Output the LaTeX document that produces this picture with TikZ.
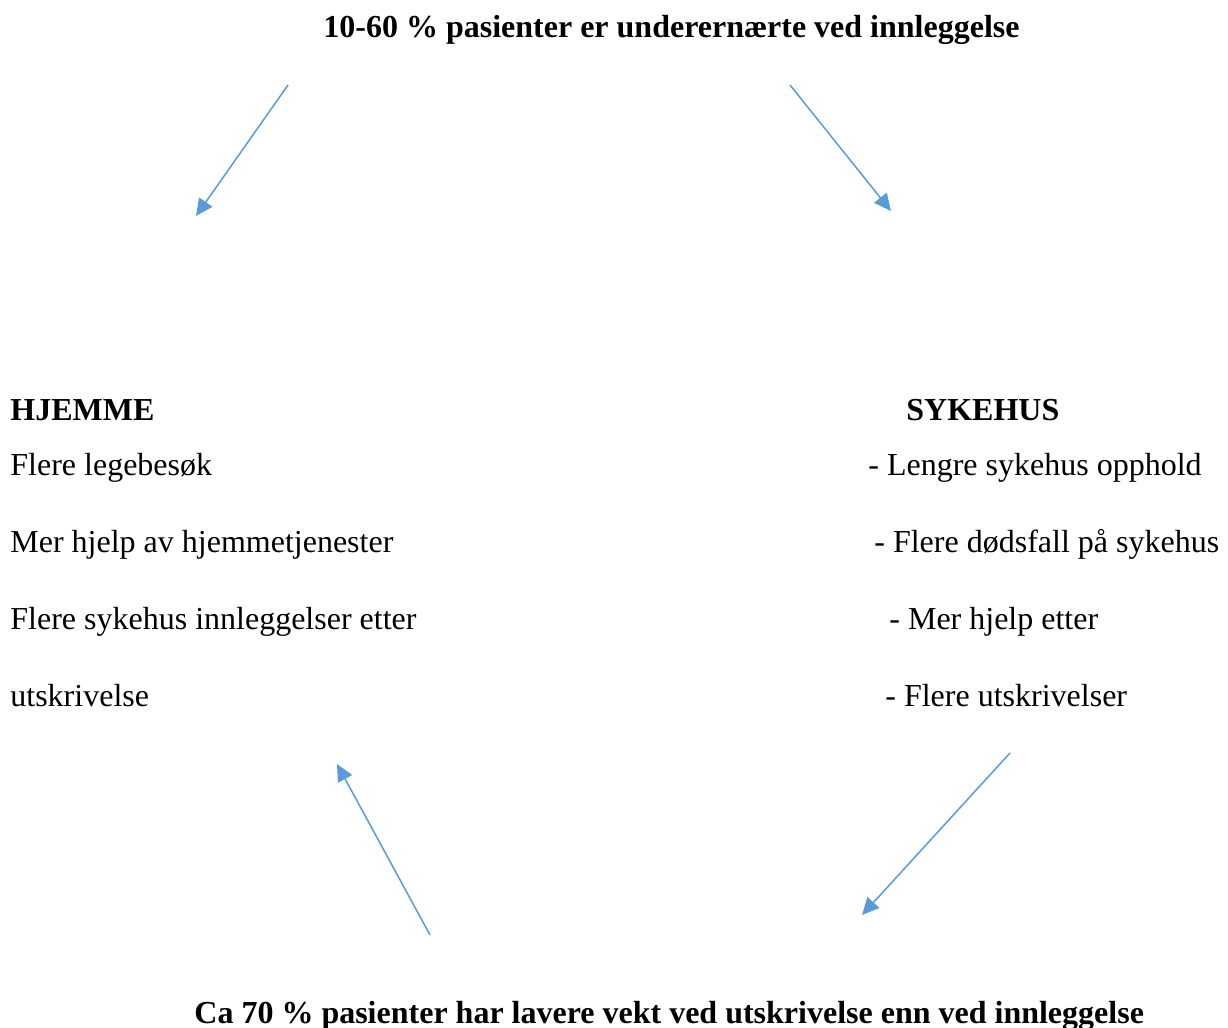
\documentclass[tikz,border=0pt]{standalone}
\usepackage{fontspec}
\setmainfont{Liberation Serif}
\usetikzlibrary{arrows.meta}
\definecolor{linjeblaa}{HTML}{5B9BD5}

\begin{document}
\begin{tikzpicture}[x=0.5pt,y=-0.5pt,
    tekst/.style={anchor=base west,inner sep=0pt,font=\fontsize{16}{19}\selectfont},
    uthevet/.style={tekst,font=\fontsize{16}{19}\selectfont\bfseries},
    pil/.style={-{Triangle[length=8.5pt,width=8pt]},color=linjeblaa,line width=0.75pt}]
  \useasboundingbox (0,0) rectangle (1228,1028);
  \node[uthevet] (topp) at (323,38) {10-60 \% pasienter er underern\ae rte ved innleggelse};
  \node[uthevet] (hjemme) at (10,420) {HJEMME};
  \node[tekst] (h1) at (10,475) {Flere legebes\o k};
  \node[tekst] (h2) at (10,552) {Mer hjelp av hjemmetjenester};
  \node[tekst] (h3) at (10,629) {Flere sykehus innleggelser etter};
  \node[tekst] (h4) at (10,706) {utskrivelse};
  \node[uthevet] (sykehus) at (906,420) {SYKEHUS};
  \node[tekst] (s1) at (868,475) {- Lengre sykehus opphold};
  \node[tekst] (s2) at (874,552) {- Flere d\o dsfall p\aa{} sykehus};
  \node[tekst] (s3) at (889,629) {- Mer hjelp etter};
  \node[tekst] (s4) at (885,706) {- Flere utskrivelser};
  \node[uthevet] (bunn) at (194,1023) {Ca 70 \% pasienter har lavere vekt ved utskrivelse enn ved innleggelse};
  % piler
  \coordinate (a1) at (288,85);   \coordinate (b1) at (196,216);
  \coordinate (a2) at (790,85);   \coordinate (b2) at (891,211);
  \coordinate (a3) at (1010,753); \coordinate (b3) at (862,915);
  \coordinate (a4) at (430,935);  \coordinate (b4) at (337,764);
  \draw[pil] (a1) -- (b1);
  \draw[pil] (a2) -- (b2);
  \draw[pil] (a3) -- (b3);
  \draw[pil] (a4) -- (b4);
\end{tikzpicture}
\end{document}
